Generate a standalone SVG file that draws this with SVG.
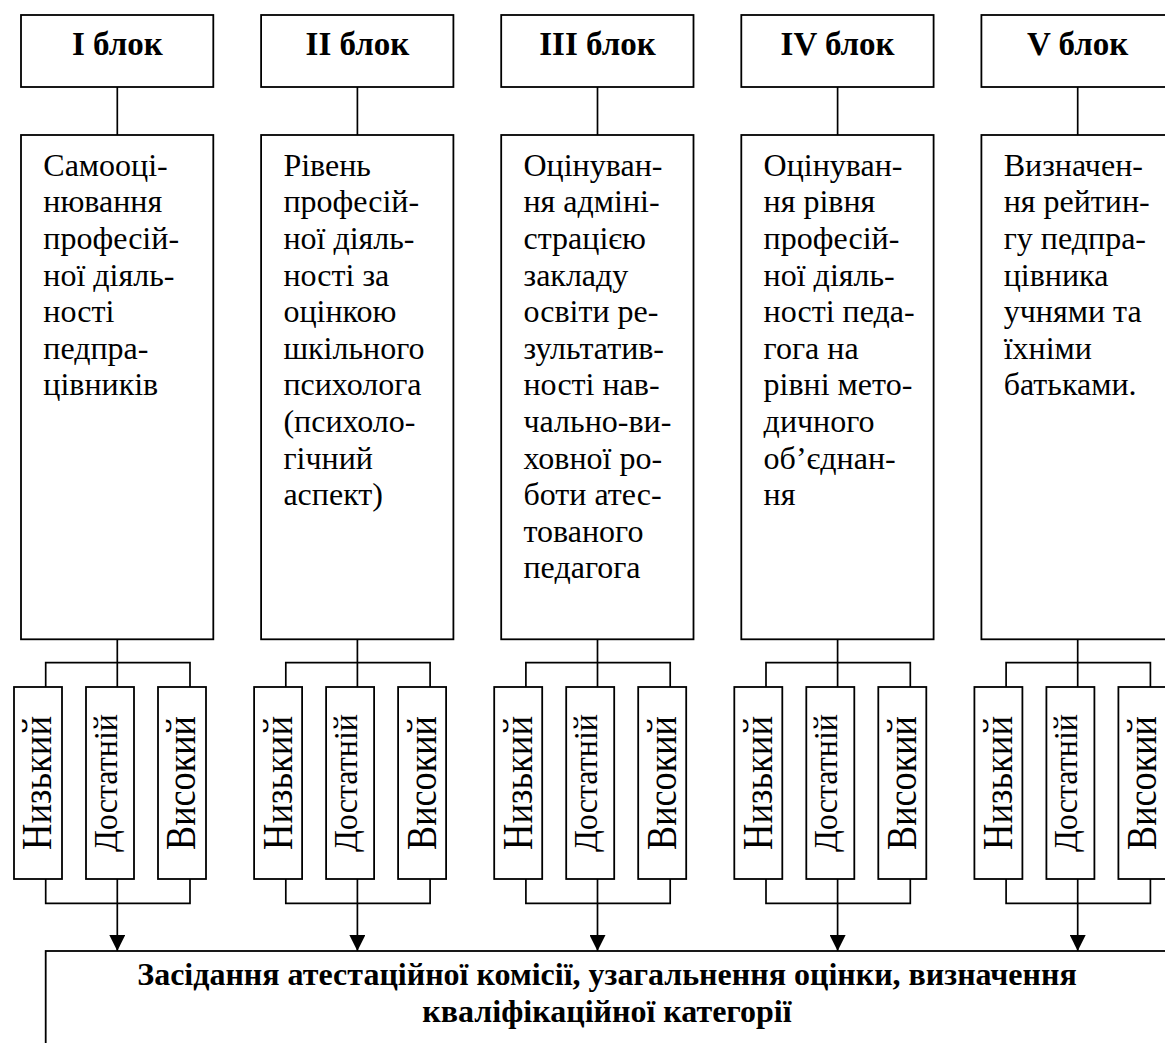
<svg xmlns="http://www.w3.org/2000/svg" width="1165" height="1043" viewBox="0 0 1165 1043">
  <defs>
    <style>
      .box{fill:#fff;stroke:#000;stroke-width:1.8}
      .ln{fill:none;stroke:#000;stroke-width:1.7}
      .hdr{font-family:"Liberation Serif","Times New Roman",serif;font-weight:bold;font-size:33px;text-anchor:middle}
      .body{font-family:"Liberation Serif","Times New Roman",serif;font-size:32px}
      .lvl{font-family:"Liberation Serif","Times New Roman",serif;font-size:43px;text-anchor:middle}
      .lvl.mid{font-size:34px}
      .fin{font-family:"Liberation Serif","Times New Roman",serif;font-weight:bold;font-size:32px;text-anchor:middle}
    </style>
    <marker id="arr" markerUnits="userSpaceOnUse" markerWidth="16" markerHeight="16" viewBox="0 0 16 16" refX="16" refY="8" orient="auto">
      <path d="M0,0 L16,8 L0,16 Z" fill="#000"/>
    </marker>
    <!-- connector pattern shared by every block column -->
    <g id="wiring">
      <path class="ln" d="M117.3 87 V135"/>
      <path class="ln" d="M117.3 639.3 V687 M45.7 687 V662.7 H190 V687"/>
      <path class="ln" d="M45.7 879 V903.3 H190 V879"/>
      <path class="ln" d="M117.3 879 V951" marker-end="url(#arr)"/>
    </g>
  </defs>

  <rect width="1165" height="1043" fill="#fff"/>

  <!-- connectors -->
  <g id="connectors">
    <use href="#wiring"/>
    <use href="#wiring" transform="translate(240.1,0)"/>
    <use href="#wiring" transform="translate(480.2,0)"/>
    <use href="#wiring" transform="translate(720.3,0)"/>
    <use href="#wiring" transform="translate(960.4,0)"/>
  </g>

  <!-- block I -->
  <g id="block-1" transform="translate(0,0)">
    <g id="block-1-head">
      <rect class="box" x="21" y="15" width="192.3" height="72"/>
      <text class="hdr" x="117.3" y="55">I блок</text>
    </g>
    <g id="block-1-desc">
      <rect class="box" x="21" y="135" width="192.3" height="504.3"/>
      <text class="body">
        <tspan x="43.3" y="175.7">Самооці-</tspan>
        <tspan x="43.3" y="212.3">нювання</tspan>
        <tspan x="43.3" y="248.9">професій-</tspan>
        <tspan x="43.3" y="285.5">ної діяль-</tspan>
        <tspan x="43.3" y="322.1">ності</tspan>
        <tspan x="43.3" y="358.7">педпра-</tspan>
        <tspan x="43.3" y="395.3">цівників</tspan>
      </text>
    </g>
    <g id="block-1-low"><rect class="box" x="14" y="687" width="48" height="192"/>
      <text class="lvl" transform="translate(51.4,783) rotate(-90)" textLength="134" lengthAdjust="spacingAndGlyphs">Низький</text></g>
    <g id="block-1-mid"><rect class="box" x="86" y="687" width="48" height="192"/>
      <text class="lvl mid" transform="translate(116.5,783) rotate(-90)" textLength="138" lengthAdjust="spacingAndGlyphs">Достатній</text></g>
    <g id="block-1-high"><rect class="box" x="158" y="687" width="48" height="192"/>
      <text class="lvl" transform="translate(195.4,783) rotate(-90)" textLength="134" lengthAdjust="spacingAndGlyphs">Високий</text></g>
  </g>

  <!-- block II -->
  <g id="block-2" transform="translate(240.1,0)">
    <g id="block-2-head">
      <rect class="box" x="21" y="15" width="192.3" height="72"/>
      <text class="hdr" x="117.3" y="55">II блок</text>
    </g>
    <g id="block-2-desc">
      <rect class="box" x="21" y="135" width="192.3" height="504.3"/>
      <text class="body">
        <tspan x="43.3" y="175.7">Рівень</tspan>
        <tspan x="43.3" y="212.3">професій-</tspan>
        <tspan x="43.3" y="248.9">ної діяль-</tspan>
        <tspan x="43.3" y="285.5">ності за</tspan>
        <tspan x="43.3" y="322.1">оцінкою</tspan>
        <tspan x="43.3" y="358.7">шкільного</tspan>
        <tspan x="43.3" y="395.3">психолога</tspan>
        <tspan x="43.3" y="431.9">(психоло-</tspan>
        <tspan x="43.3" y="468.5">гічний</tspan>
        <tspan x="43.3" y="505.1">аспект)</tspan>
      </text>
    </g>
    <g id="block-2-low"><rect class="box" x="14" y="687" width="48" height="192"/>
      <text class="lvl" transform="translate(51.4,783) rotate(-90)" textLength="134" lengthAdjust="spacingAndGlyphs">Низький</text></g>
    <g id="block-2-mid"><rect class="box" x="86" y="687" width="48" height="192"/>
      <text class="lvl mid" transform="translate(116.5,783) rotate(-90)" textLength="138" lengthAdjust="spacingAndGlyphs">Достатній</text></g>
    <g id="block-2-high"><rect class="box" x="158" y="687" width="48" height="192"/>
      <text class="lvl" transform="translate(195.4,783) rotate(-90)" textLength="134" lengthAdjust="spacingAndGlyphs">Високий</text></g>
  </g>

  <!-- block III -->
  <g id="block-3" transform="translate(480.2,0)">
    <g id="block-3-head">
      <rect class="box" x="21" y="15" width="192.3" height="72"/>
      <text class="hdr" x="117.3" y="55">III блок</text>
    </g>
    <g id="block-3-desc">
      <rect class="box" x="21" y="135" width="192.3" height="504.3"/>
      <text class="body">
        <tspan x="43.3" y="175.7">Оцінуван-</tspan>
        <tspan x="43.3" y="212.3">ня адміні-</tspan>
        <tspan x="43.3" y="248.9">страцією</tspan>
        <tspan x="43.3" y="285.5">закладу</tspan>
        <tspan x="43.3" y="322.1">освіти ре-</tspan>
        <tspan x="43.3" y="358.7">зультатив-</tspan>
        <tspan x="43.3" y="395.3">ності нав-</tspan>
        <tspan x="43.3" y="431.9">чально-ви-</tspan>
        <tspan x="43.3" y="468.5">ховної ро-</tspan>
        <tspan x="43.3" y="505.1">боти атес-</tspan>
        <tspan x="43.3" y="541.7">тованого</tspan>
        <tspan x="43.3" y="578.3">педагога</tspan>
      </text>
    </g>
    <g id="block-3-low"><rect class="box" x="14" y="687" width="48" height="192"/>
      <text class="lvl" transform="translate(51.4,783) rotate(-90)" textLength="134" lengthAdjust="spacingAndGlyphs">Низький</text></g>
    <g id="block-3-mid"><rect class="box" x="86" y="687" width="48" height="192"/>
      <text class="lvl mid" transform="translate(116.5,783) rotate(-90)" textLength="138" lengthAdjust="spacingAndGlyphs">Достатній</text></g>
    <g id="block-3-high"><rect class="box" x="158" y="687" width="48" height="192"/>
      <text class="lvl" transform="translate(195.4,783) rotate(-90)" textLength="134" lengthAdjust="spacingAndGlyphs">Високий</text></g>
  </g>

  <!-- block IV -->
  <g id="block-4" transform="translate(720.3,0)">
    <g id="block-4-head">
      <rect class="box" x="21" y="15" width="192.3" height="72"/>
      <text class="hdr" x="117.3" y="55">IV блок</text>
    </g>
    <g id="block-4-desc">
      <rect class="box" x="21" y="135" width="192.3" height="504.3"/>
      <text class="body">
        <tspan x="43.3" y="175.7">Оцінуван-</tspan>
        <tspan x="43.3" y="212.3">ня рівня</tspan>
        <tspan x="43.3" y="248.9">професій-</tspan>
        <tspan x="43.3" y="285.5">ної діяль-</tspan>
        <tspan x="43.3" y="322.1">ності педа-</tspan>
        <tspan x="43.3" y="358.7">гога на</tspan>
        <tspan x="43.3" y="395.3">рівні мето-</tspan>
        <tspan x="43.3" y="431.9">дичного</tspan>
        <tspan x="43.3" y="468.5">об’єднан-</tspan>
        <tspan x="43.3" y="505.1">ня</tspan>
      </text>
    </g>
    <g id="block-4-low"><rect class="box" x="14" y="687" width="48" height="192"/>
      <text class="lvl" transform="translate(51.4,783) rotate(-90)" textLength="134" lengthAdjust="spacingAndGlyphs">Низький</text></g>
    <g id="block-4-mid"><rect class="box" x="86" y="687" width="48" height="192"/>
      <text class="lvl mid" transform="translate(116.5,783) rotate(-90)" textLength="138" lengthAdjust="spacingAndGlyphs">Достатній</text></g>
    <g id="block-4-high"><rect class="box" x="158" y="687" width="48" height="192"/>
      <text class="lvl" transform="translate(195.4,783) rotate(-90)" textLength="134" lengthAdjust="spacingAndGlyphs">Високий</text></g>
  </g>

  <!-- block V (runs past the right edge) -->
  <g id="block-5" transform="translate(960.4,0)">
    <g id="block-5-head">
      <rect class="box" x="21" y="15" width="192.3" height="72"/>
      <text class="hdr" x="117.3" y="55">V блок</text>
    </g>
    <g id="block-5-desc">
      <rect class="box" x="21" y="135" width="192.3" height="504.3"/>
      <text class="body">
        <tspan x="43.3" y="175.7">Визначен-</tspan>
        <tspan x="43.3" y="212.3">ня рейтин-</tspan>
        <tspan x="43.3" y="248.9">гу педпра-</tspan>
        <tspan x="43.3" y="285.5">цівника</tspan>
        <tspan x="43.3" y="322.1">учнями та</tspan>
        <tspan x="43.3" y="358.7">їхніми</tspan>
        <tspan x="43.3" y="395.3">батьками.</tspan>
      </text>
    </g>
    <g id="block-5-low"><rect class="box" x="14" y="687" width="48" height="192"/>
      <text class="lvl" transform="translate(51.4,783) rotate(-90)" textLength="134" lengthAdjust="spacingAndGlyphs">Низький</text></g>
    <g id="block-5-mid"><rect class="box" x="86" y="687" width="48" height="192"/>
      <text class="lvl mid" transform="translate(116.5,783) rotate(-90)" textLength="138" lengthAdjust="spacingAndGlyphs">Достатній</text></g>
    <g id="block-5-high"><rect class="box" x="158" y="687" width="48" height="192"/>
      <text class="lvl" transform="translate(195.4,783) rotate(-90)" textLength="134" lengthAdjust="spacingAndGlyphs">Високий</text></g>
  </g>

  <!-- commission box -->
  <g id="commission">
    <rect class="box" x="45.7" y="951" width="1124" height="110"/>
    <text class="fin" x="607" y="985">Засідання атестаційної комісії, узагальнення оцінки, визначення</text>
    <text class="fin" x="607" y="1022">кваліфікаційної категорії</text>
  </g>
</svg>
